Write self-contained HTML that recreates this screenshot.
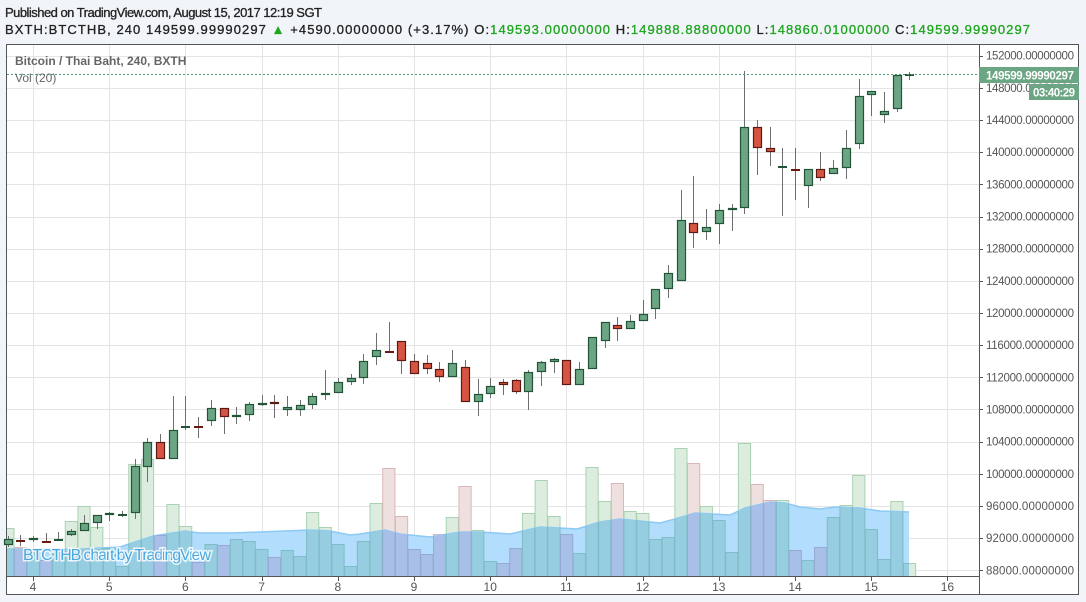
<!DOCTYPE html>
<html><head><meta charset="utf-8"><style>
html,body{margin:0;padding:0;background:#f1f4f8;}
svg{display:block;font-family:"Liberation Sans",sans-serif;}
</style></head><body>
<svg id="s" width="1086" height="602" xmlns="http://www.w3.org/2000/svg">
<rect x="0" y="0" width="1086" height="602" fill="#f1f4f8"/>
<text x="5" y="17" font-size="13" fill="#222" stroke="#222" stroke-width="0.3" textLength="317">Published on TradingView.com, August 15, 2017 12:19 SGT</text>
<text x="5" y="34" font-size="13" fill="#222" stroke="#222" stroke-width="0.3" textLength="1025">BXTH:BTCTHB, 240  149599.99990297 <tspan fill="#1ea51e" stroke="#1ea51e">▲</tspan> +4590.00000000 (+3.17%) O:<tspan fill="#1ea51e" stroke="#1ea51e">149593.00000000</tspan> H:<tspan fill="#1ea51e" stroke="#1ea51e">149888.88800000</tspan> L:<tspan fill="#1ea51e" stroke="#1ea51e">148860.01000000</tspan> C:<tspan fill="#1ea51e" stroke="#1ea51e">149599.99990297</tspan></text>
<rect x="6.5" y="44.5" width="1072" height="550" fill="#fff" stroke="#555" stroke-width="1"/>
<g id="grid" stroke="#e4e4e4" stroke-width="1"></g>
<g id="vol"></g>
<g id="candles"></g>
<line x1="7" y1="74.5" x2="979" y2="74.5" stroke="#4a9a6a" stroke-width="1" stroke-dasharray="2,2"/>
<text x="15" y="65" font-size="12" font-weight="bold" fill="#666">Bitcoin / Thai Baht, 240, BXTH</text>
<text x="15" y="82" font-size="12" fill="#666">Vol (20)</text>
<text x="23" y="560" font-size="16" fill="#4aa8e0" stroke="#fff" stroke-width="3" paint-order="stroke" stroke-opacity="0.8" textLength="188">BTCTHB chart by TradingView</text>
<line x1="979.5" y1="44" x2="979.5" y2="595" stroke="#555"/>
<line x1="7" y1="576.5" x2="979" y2="576.5" stroke="#555"/>
<g id="yax" font-size="11.5" fill="#555"></g>
<g id="xax" font-size="12" fill="#555" text-anchor="middle"></g>
<rect x="979" y="67" width="100" height="16" fill="#6ba583"/>
<text x="986" y="79.5" font-size="11.5" font-weight="bold" fill="#fff" textLength="88">149599.99990297</text>
<rect x="1029" y="84" width="50" height="16" fill="#6ba583"/>
<text x="1033" y="96.5" font-size="11.5" font-weight="bold" fill="#fff" textLength="42">03:40:29</text>
</svg>
<script>
var NS="http://www.w3.org/2000/svg";
function el(p,t,a,txt){var e=document.createElementNS(NS,t);for(var k in a)e.setAttribute(k,a[k]);if(txt!=null)e.textContent=txt;p.appendChild(e);return e;}
var g=document.getElementById('grid'),ya=document.getElementById('yax'),xa=document.getElementById('xax');
for(var k=0;k<=16;k++){var y=55.7+32.16*k;var yy=Math.round(y)+0.5;
 el(g,'line',{x1:7,y1:yy,x2:979,y2:yy});
 el(ya,'line',{x1:979,y1:yy,x2:983,y2:yy,stroke:'#555'});
 el(ya,'text',{x:986,y:y+4,textLength:88},(152000-4000*k)+'.00000000');
}
var days=[4,5,6,7,8,9,10,11,12,13,14,15,16];
days.forEach(function(d,j){var x=33+76.2*j;var xx=Math.round(x)+0.5;
 el(g,'line',{x1:xx,y1:45,x2:xx,y2:576});
 el(xa,'line',{x1:xx,y1:577,x2:xx,y2:581,stroke:'#555'});
 el(xa,'text',{x:x,y:591},String(d));});
var C=[[536,547,539,545,'g'],[535,546,540,541,'r'],[536,542,538,540,'g'],[533,542,541,542,'r'],[532,541,539,540,'g'],[529,536,531,535,'g'],[515,531,523,531,'g'],[515,529,515,523,'g'],[512,521,513,515,'g'],[511,517,514,515,'g'],[459,519,466,513,'g'],[438,482,442,467,'g'],[434,459,442,459,'r'],[396,459,430,459,'g'],[396,430,426,427,'g'],[417,438,426,427,'r'],[400,426,408,421,'g'],[408,434,408,417,'r'],[407,424,415,417,'g'],[402,421,404,415,'g'],[395,406,403,405,'g'],[395,418,402,404,'r'],[396,416,407,410,'g'],[400,416,405,410,'g'],[393,409,396,405,'g'],[370,400,393,395,'g'],[378,393,382,393,'g'],[374,385,378,382,'g'],[354,384,361,378,'g'],[333,365,350,357,'g'],[322,351,351,352,'r'],[341,374,341,361,'r'],[354,374,361,374,'r'],[355,374,363,369,'r'],[362,382,369,377,'r'],[350,377,363,377,'g'],[360,402,367,402,'r'],[379,416,394,402,'g'],[378,398,386,394,'g'],[379,395,382,385,'r'],[379,394,380,392,'r'],[370,410,372,392,'g'],[361,386,362,372,'g'],[358,373,359,362,'g'],[360,385,360,385,'r'],[362,385,369,385,'g'],[337,369,337,369,'g'],[322,348,322,341,'g'],[317,341,325,329,'r'],[315,329,321,329,'g'],[300,321,314,321,'g'],[289,319,289,309,'g'],[265,298,273,289,'g'],[190,281,220,281,'g'],[176,248,223,233,'r'],[209,240,227,232,'g'],[204,244,210,224,'g'],[204,231,208,210,'g'],[71,214,127,208,'g'],[120,175,127,148,'r'],[127,166,148,152,'r'],[148,216,166,167,'g'],[148,200,169,170,'r'],[169,208,169,186,'g'],[152,181,169,178,'r'],[160,174,168,174,'g'],[130,179,148,168,'g'],[79,149,96,144,'g'],[91,116,91,95,'g'],[92,123,111,115,'g'],[75,112,75,109,'g'],[72,80,74,75,'g']];
var V=[528,547,550,560,550,521,506,527,548,566,464,459,535,504,526,562,544,545,539,541,549,557,550,556,512,527,544,566,541,503,468,516,549,554,534,517,486,530,561,563,548,513,480,516,534,553,467,501,483,511,513,539,537,448,463,506,520,552,443,484,500,500,550,560,547,517,505,475,529,559,501,563];
var MA=[[7,549],[40,549],[80,549],[120,547],[153,536],[185,531],[200,533],[230,533],[260,532],[310,530],[330,531],[350,535],[360,534],[385,530],[400,534],[430,537],[460,532],[480,532],[510,534],[540,527],[560,528],[577,529],[600,522],[620,519],[640,521],[660,523],[675,519],[695,513],[730,515],[745,508],[770,502],[785,503],[800,507],[820,509],[835,507],[860,508],[880,511],[909,512]];
var vg=document.getElementById('vol');
var defs=el(document.getElementById('s'),'defs',{});
var cp=el(defs,'clipPath',{id:'mac'});
var d='M7,576 ';MA.forEach(function(p){d+='L'+p[0]+','+p[1]+' ';});d+='L909,576 Z';
el(cp,'path',{d:d});
var cg=el(defs,'clipPath',{id:'plot'});el(cg,'rect',{x:7,y:45,width:972,height:531});
var vb=el(vg,'g',{'clip-path':'url(#plot)'});
function bars(par,gf,rf,gs,rs){V.forEach(function(t,j){var i=j-2;var x=33+12.7*i-6.35;var c=C[j][4];
 el(par,'rect',{x:x+0.5,y:t+0.5,width:12.2,height:576-t,fill:c=='g'?gf:rf,stroke:c=='g'?gs:rs,'stroke-width':1});});}
bars(vb,'#dcecdf','#efe0e0','#a9d2b2','#d9b7b7');
el(vb,'path',{d:d,fill:'#b2ddfc'});
var ml='';MA.forEach(function(p,j){ml+=(j?'L':'M')+p[0]+','+p[1]+' ';});
el(vb,'path',{d:ml,fill:'none',stroke:'#8cc9f5','stroke-width':1.5});
var vc=el(vg,'g',{'clip-path':'url(#mac)'});
bars(vc,'#96cde0','#a8bfe8','#7fbcc7','#95a9d4');
var cgp=document.getElementById('candles');
C.forEach(function(c,j){var i=j-2;var x=33+12.7*i;var xc=Math.round(x)+0.5;
 var red=c[4]=='r';
 el(cgp,'line',{x1:xc,y1:c[0],x2:xc,y2:c[1],stroke:'#6e6e70','stroke-width':1});
 var h=c[3]-c[2];
 if(h<2){el(cgp,'rect',{x:xc-4.5,y:c[2],width:9,height:2,fill:red?'#6b1a12':'#225437'});}
 else el(cgp,'rect',{x:xc-4,y:c[2]+0.5,width:8,height:h-1,fill:red?'#d75442':'#6ba583',stroke:red?'#5b1a13':'#225437','stroke-width':1.2});
});
</script>
</body></html>
